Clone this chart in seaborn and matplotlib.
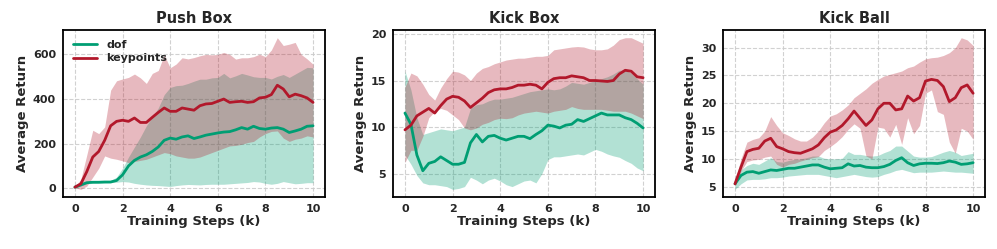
import numpy as np
import pandas as pd
import matplotlib
matplotlib.use("Agg")
import matplotlib.pyplot as plt
import seaborn as sns

# training steps (k), sampled every 0.25k
steps = np.linspace(0, 10, 41)

# ---- Push Box ----
push_kp_mean = [5, 20, 75, 140, 165, 215, 280, 300, 305, 300, 315, 295, 295, 318, 340, 360, 345, 345, 360, 355,
                350, 370, 378, 380, 390, 400, 385, 388, 390, 385, 388, 405, 408, 420, 462, 445, 410, 422, 415, 405, 385]
push_kp_hi = [8, 40, 150, 260, 245, 275, 440, 482, 490, 497, 512, 495, 470, 515, 528, 598, 540, 557, 585, 580,
              586, 594, 600, 598, 600, 609, 600, 579, 585, 585, 590, 601, 590, 620, 675, 640, 646, 654, 600, 580, 556]
push_kp_lo = [2, -5, 10, 50, 90, 145, 135, 130, 123, 115, 120, 125, 130, 140, 150, 160, 155, 145, 140, 135,
              135, 140, 150, 160, 170, 180, 190, 192, 197, 205, 210, 230, 245, 255, 257, 225, 210, 220, 225, 235, 230]
push_dof_mean = [5, 15, 25, 27, 27, 28, 28, 35, 60, 100, 125, 140, 150, 165, 185, 215, 225, 220, 230, 235,
                 223, 230, 238, 243, 248, 252, 254, 262, 272, 265, 278, 268, 265, 270, 272, 265, 250, 257, 265, 278, 280]
push_dof_hi = [7, 18, 30, 32, 33, 34, 35, 50, 90, 140, 185, 230, 280, 320, 360, 420, 452, 460, 462, 470,
               480, 489, 489, 495, 497, 515, 495, 504, 515, 508, 500, 497, 497, 490, 502, 510, 497, 512, 527, 542, 540]
push_dof_lo = [3, 10, 20, 22, 23, 24, 25, 27, 30, 28, 22, 18, 15, 13, 12, 10, 8, 12, 15, 17,
               16, 15, 17, 18, 18, 18, 20, 22, 24, 26, 30, 28, 22, 18, 22, 30, 25, 20, 22, 25, 25]

# ---- Kick Box ----
kbox_kp_mean = [9.7, 10.2, 11.2, 11.6, 12.0, 11.5, 12.3, 13.0, 13.3, 13.2, 12.8, 12.1, 12.6, 13.1, 13.7, 14.0,
                14.1, 14.1, 14.25, 14.5, 14.5, 14.6, 14.5, 14.1, 14.8, 15.2, 15.3, 15.3, 15.5, 15.4, 15.3, 15.0,
                15.0, 14.95, 14.9, 15.0, 15.7, 16.1, 16.0, 15.4, 15.3]
kbox_kp_hi = [14.3, 15.8, 15.5, 14.6, 13.5, 12.9, 14.2, 15.2, 16.0, 15.9, 15.6, 15.0, 15.8, 16.3, 16.5, 16.8,
              17.0, 17.2, 17.3, 17.4, 17.4, 17.5, 17.6, 17.6, 17.7, 18.3, 18.4, 18.5, 18.6, 18.65, 18.6, 18.4,
              18.3, 18.3, 18.4, 18.8, 19.4, 19.6, 19.6, 19.3, 19.0]
kbox_kp_lo = [6.2, 7.5, 7.5, 9.0, 11.0, 11.7, 12.0, 11.8, 11.3, 10.8, 9.9, 9.7, 9.9, 10.3, 10.5, 10.8,
              10.95, 10.9, 11.0, 11.3, 11.5, 11.6, 11.7, 11.6, 11.5, 11.7, 11.8, 11.9, 12.2, 12.0, 11.9, 11.9,
              11.9, 11.9, 11.8, 11.7, 11.7, 11.7, 11.5, 11.2, 10.9]
kbox_dof_mean = [11.5, 10.3, 7.0, 5.3, 6.1, 6.3, 6.8, 6.4, 6.0, 6.0, 6.2, 8.3, 9.2, 8.4, 9.0, 9.1,
                 8.8, 8.6, 8.8, 9.0, 9.0, 8.75, 9.2, 9.6, 10.2, 10.1, 9.9, 10.2, 10.3, 10.8, 10.6, 10.9,
                 11.2, 11.5, 11.3, 11.3, 11.3, 11.0, 10.8, 10.4, 9.9]
kbox_dof_hi = [16.0, 14.0, 11.0, 9.2, 9.4, 9.6, 9.8, 9.7, 9.6, 9.8, 10.0, 12.0, 12.4, 12.5, 12.8, 13.0,
               13.0, 13.1, 13.2, 13.4, 13.6, 13.8, 13.9, 14.0, 14.1, 14.0, 14.1, 14.4, 14.8, 14.7, 14.6, 14.8,
               15.0, 15.2, 15.4, 15.7, 16.1, 16.1, 15.8, 15.2, 14.6]
kbox_dof_lo = [7.0, 6.0, 4.8, 4.0, 3.8, 3.8, 3.7, 3.6, 3.3, 3.4, 3.6, 4.6, 4.3, 3.9, 4.3, 4.5,
               4.2, 3.8, 3.6, 3.9, 4.2, 4.3, 4.0, 5.0, 6.5, 6.8, 6.8, 6.9, 7.0, 7.1, 7.0, 7.3,
               7.6, 7.4, 7.1, 6.9, 6.75, 6.4, 6.1, 5.6, 5.3]

# ---- Kick Ball ----
kball_kp_mean = [5.5, 8.5, 11.3, 11.7, 11.9, 13.2, 13.7, 12.2, 11.8, 11.3, 11.1, 11.0, 11.4, 11.8, 12.5, 13.8,
                 14.8, 15.2, 16.0, 17.2, 18.6, 17.3, 16.0, 17.0, 19.0, 20.0, 20.0, 18.8, 19.0, 21.3, 20.4, 21.0,
                 24.0, 24.3, 24.1, 23.0, 20.3, 21.0, 22.8, 23.3, 21.8]
kball_kp_hi = [6.0, 10.0, 13.0, 13.5, 13.8, 15.0, 17.6, 16.0, 14.7, 14.2, 13.6, 13.2, 13.2, 13.9, 15.0, 16.5,
               17.7, 18.1, 18.8, 19.7, 21.0, 21.8, 22.6, 23.6, 24.3, 24.9, 25.2, 25.5, 25.8, 26.4, 26.7, 27.4,
               28.0, 28.2, 28.3, 28.6, 29.1, 30.0, 31.8, 31.4, 30.4]
kball_kp_lo = [5.0, 7.8, 9.5, 9.8, 9.9, 10.3, 10.5, 9.0, 8.5, 9.0, 9.2, 9.6, 9.9, 10.2, 10.4, 11.5,
               12.2, 13.0, 14.0, 15.3, 16.3, 15.5, 10.5, 10.0, 15.7, 15.5, 13.9, 16.2, 12.6, 17.4, 14.5, 16.0,
               21.8, 22.4, 18.5, 18.0, 13.0, 11.0, 15.5, 15.0, 13.5]
kball_dof_mean = [5.5, 7.0, 7.6, 7.7, 7.4, 7.7, 8.0, 7.9, 8.1, 8.3, 8.3, 8.5, 8.7, 8.9, 8.9, 8.5,
                  8.2, 8.3, 8.4, 9.1, 8.7, 8.8, 8.5, 8.4, 8.4, 8.6, 9.0, 9.7, 10.2, 9.3, 8.8, 9.1,
                  9.2, 9.2, 9.15, 9.3, 9.6, 9.4, 9.0, 9.1, 9.3]
kball_dof_hi = [6.0, 8.0, 8.8, 9.2, 9.0, 9.6, 10.2, 9.5, 9.4, 9.7, 9.9, 10.0, 10.2, 10.5, 10.5, 10.1,
                10.0, 10.0, 10.1, 11.3, 10.8, 10.8, 10.6, 10.5, 10.6, 11.1, 11.5, 12.3, 12.3, 11.4, 10.5, 10.3,
                10.3, 10.4, 10.8, 11.2, 11.5, 11.2, 10.6, 10.8, 11.0]
kball_dof_lo = [4.5, 5.5, 6.2, 6.3, 6.3, 6.4, 6.6, 6.6, 6.7, 6.9, 7.0, 7.1, 7.2, 7.2, 7.2, 7.0,
                6.8, 6.6, 6.8, 7.0, 7.2, 7.0, 6.8, 6.7, 6.8, 7.2, 7.5, 7.9, 8.1, 7.8, 7.5, 7.6,
                7.6, 7.6, 7.7, 7.8, 7.7, 7.6, 7.6, 7.5, 7.4]

titles = ["Push Box", "Kick Box", "Kick Ball"]
methods = ["dof", "keypoints"]
colors = {"dof": "#009E73", "keypoints": "#B2182B"}

panels = [
    {"dof": (push_dof_mean, push_dof_lo, push_dof_hi), "keypoints": (push_kp_mean, push_kp_lo, push_kp_hi)},
    {"dof": (kbox_dof_mean, kbox_dof_lo, kbox_dof_hi), "keypoints": (kbox_kp_mean, kbox_kp_lo, kbox_kp_hi)},
    {"dof": (kball_dof_mean, kball_dof_lo, kball_dof_hi), "keypoints": (kball_kp_mean, kball_kp_lo, kball_kp_hi)},
]

sns.set_style("white")
plt.rcParams['font.family'] = ['DejaVu Sans']
plt.rcParams['font.weight'] = 'bold'
plt.rcParams['axes.labelweight'] = 'bold'
plt.rcParams['axes.titleweight'] = 'bold'

fig, axes = plt.subplots(1, 3, figsize=(9.97, 2.49), dpi=100)
fig.subplots_adjust(left=0.0632, right=0.988, bottom=0.209, top=0.879, wspace=0.26)

for i, (ax, title, panel) in enumerate(zip(axes, titles, panels)):
    rows = []
    for m in methods:
        mean, lo, hi = panel[m]
        ax.fill_between(steps, lo, hi, color=colors[m], alpha=0.3, linewidth=0)
        for s, v in zip(steps, mean):
            rows.append({"step": s, "ret": v, "method": m})
    df = pd.DataFrame(rows)
    sns.lineplot(data=df, x="step", y="ret", hue="method", hue_order=methods,
                 palette=colors, linewidth=2, errorbar=None, ax=ax, legend=(i == 0))

    ax.set_title(title, fontsize=10.5, fontweight='bold', pad=5)
    ax.set_xlabel("Training Steps (k)", fontsize=9.5, fontweight='bold', labelpad=1)
    ax.set_ylabel("Average Return", fontsize=9.5, fontweight='bold', labelpad=3)
    ax.set_xticks([0, 2, 4, 6, 8, 10])
    ax.tick_params(labelsize=8, length=3, width=1, pad=2)
    for lab in ax.get_xticklabels() + ax.get_yticklabels():
        lab.set_fontweight('bold')
    ax.grid(True, linestyle='--', color='#cccccc', linewidth=0.8, alpha=0.9)
    for sp in ax.spines.values():
        sp.set_color('black')
        sp.set_linewidth(1.3)

axes[0].set_yticks([0, 200, 400, 600])
axes[1].set_yticks([5, 10, 15, 20])
axes[2].set_yticks([5, 10, 15, 20, 25, 30])

leg = axes[0].legend(loc='upper left', frameon=False, fontsize=8, handlelength=2.2,
                     borderaxespad=0.5, labelspacing=0.3)
for t in leg.get_texts():
    t.set_fontweight('bold')

fig.savefig("out.png", dpi=100)
